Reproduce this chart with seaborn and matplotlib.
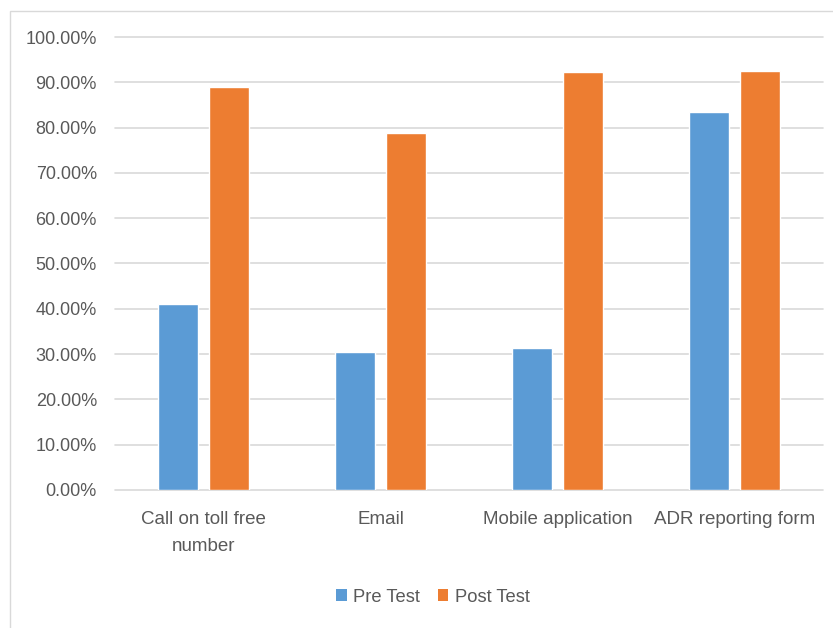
import matplotlib
matplotlib.use("Agg")
import matplotlib.pyplot as plt
from matplotlib.patches import Rectangle, Patch
from matplotlib.ticker import FuncFormatter, MultipleLocator
import seaborn as sns
import pandas as pd

# Reporting channels and share of respondents aware of each
categories = ["Call on toll free\nnumber", "Email", "Mobile application", "ADR reporting form"]
pre_test = [0.410, 0.305, 0.313, 0.835]
post_test = [0.889, 0.789, 0.923, 0.926]
series_names = ["Pre Test", "Post Test"]
colors = ["#5B9BD5", "#ED7D31"]

df = pd.DataFrame({
    "channel": categories * 2,
    "share": pre_test + post_test,
    "group": [series_names[0]] * len(categories) + [series_names[1]] * len(categories),
})

sns.set_theme(style="white")
plt.rcParams["font.family"] = ["Liberation Sans", "DejaVu Sans"]
text_color = "#595959"
grid_color = "#D9D9D9"

W, H = 833, 628
fig = plt.figure(figsize=(W / 100, H / 100), dpi=100)
fig.patch.set_facecolor("white")

# Chart-area frame
fig.add_artist(Rectangle((10 / W, -0.05), 1.2, (1 - 11 / H) + 0.05,
                         transform=fig.transFigure, fill=False,
                         edgecolor="#D9D9D9", linewidth=1.0))

ax = fig.add_axes([115 / W, 1 - 490 / H, (823 - 115) / W, (490 - 37) / H])
sns.barplot(data=df, x="channel", y="share", hue="group", palette=colors,
            hue_order=series_names, order=categories, width=0.565, gap=0.2,
            saturation=1, ax=ax, legend=False, zorder=3)

ax.set_ylim(0, 1.0)
ax.set_xlim(-0.5, len(categories) - 0.5)
ax.yaxis.set_major_locator(MultipleLocator(0.1))
ax.yaxis.set_major_formatter(FuncFormatter(lambda v, _: f"{v * 100:.2f}%"))
ax.grid(axis="y", color=grid_color, linewidth=1.2, zorder=0)
for gl in ax.get_ygridlines():
    gl.set_clip_on(False)
ax.grid(axis="x", visible=False)
for s in ["top", "right", "left", "bottom"]:
    ax.spines[s].set_visible(False)
ax.tick_params(axis="y", length=0, pad=13, labelsize=13, labelcolor=text_color)
ax.tick_params(axis="x", length=0, pad=15, labelsize=13.5, labelcolor=text_color)
ax.set_xlabel("")
ax.set_ylabel("")
for lbl in ax.get_xticklabels():
    lbl.set_linespacing(1.8)

handles = [Patch(facecolor=c, edgecolor="none") for c in colors]
fig.legend(handles, series_names, loc="center", bbox_to_anchor=(433 / W, 1 - 597 / H),
           ncol=2, frameon=False, fontsize=13.2, labelcolor=text_color,
           handlelength=0.55, handleheight=0.65, handletextpad=0.35, columnspacing=1.0)

fig.savefig("out.png", dpi=100, facecolor="white")
